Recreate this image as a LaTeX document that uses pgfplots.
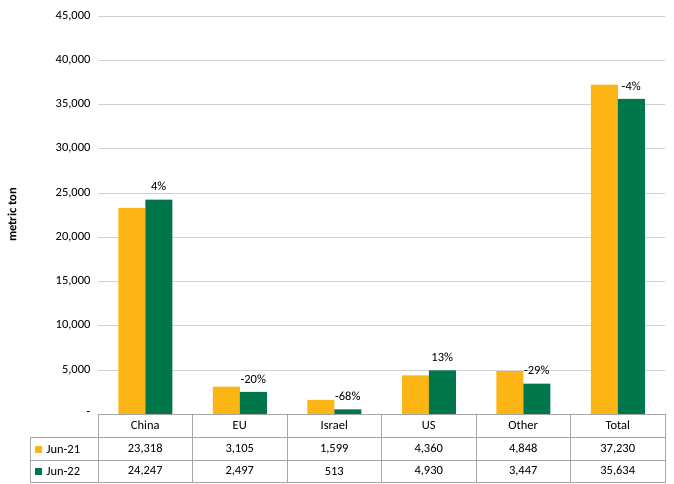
\documentclass[border=0pt]{standalone}
\usepackage{pgfplots}
\pgfplotsset{compat=1.18}
\usepackage{fontspec}
\setmainfont{Carlito}
\definecolor{cy}{HTML}{FDB515}
\definecolor{cg}{HTML}{00774A}
\newcommand{\fs}{\fontsize{12.5}{14}\selectfont}
\begin{document}
\begin{tikzpicture}[x=1pt,y=1pt]
\path (0,0) rectangle (674,483);
\begin{axis}[at={(98pt,69pt)},anchor=south west,scale only axis,width=567pt,height=398pt,
 ybar,bar width=27pt,xmin=-0.5,xmax=5.5,ymin=0,ymax=45000,scaled y ticks=false,
 ytick={0,5000,...,45000},yticklabels={-,{5,000},{10,000},{15,000},{20,000},{25,000},{30,000},{35,000},{40,000},{45,000}},
 xtick=\empty,ymajorgrids,grid style={gray!35},axis line style={draw=none},
 major tick length=0pt,tick label style={font=\fs},yticklabel style={xshift=-4pt},
 ylabel={\textbf{metric ton}},
 every axis y label/.style={at={(-86pt,0.5)},rotate=90,anchor=center,font=\fs},
 clip=false]
\addplot[fill=cy,draw=none,bar shift=-13.5pt] coordinates {(0,23318)(1,3105)(2,1599)(3,4360)(4,4848)(5,37230)};
\addplot[fill=cg,draw=none,bar shift=13.5pt] coordinates {(0,24247)(1,2497)(2,513)(3,4930)(4,3447)(5,35634)};
\node[font=\fs,anchor=south,xshift=13.5pt,yshift=5pt] at (axis cs:0,24247) {4\%};
\node[font=\fs,anchor=south,xshift=13.5pt,yshift=5pt] at (axis cs:1,2497) {-20\%};
\node[font=\fs,anchor=south,xshift=13.5pt,yshift=5pt] at (axis cs:2,513) {-68\%};
\node[font=\fs,anchor=south,xshift=13.5pt,yshift=5pt] at (axis cs:3,4930) {13\%};
\node[font=\fs,anchor=south,xshift=13.5pt,yshift=5pt] at (axis cs:4,3447) {-29\%};
\node[font=\fs,anchor=south,xshift=13.5pt,yshift=5pt] at (axis cs:5,35634) {-4\%};
\end{axis}
\draw[gray!70] (98,69) -- (665,69);
\draw[gray!70] (30,46) -- (665,46);
\draw[gray!70] (30,23) -- (665,23);
\draw[gray!70] (30,0.5) -- (665,0.5);
\draw[gray!70] (30,46) -- (30,0.5);
\foreach \k in {0,...,6}{\draw[gray!70] (98+94.5*\k,69) -- (98+94.5*\k,0.5);}
\foreach \n [count=\i from 0] in {China,EU,Israel,US,Other,Total}{\node[font=\fs] at (145.25+94.5*\i,57.5) {\n};}
\foreach \n [count=\i from 0] in {{23,318},{3,105},{1,599},{4,360},{4,848},{37,230}}{\node[font=\fs] at (145.25+94.5*\i,34) {\n};}
\foreach \n [count=\i from 0] in {{24,247},{2,497},513,{4,930},{3,447},{35,634}}{\node[font=\fs] at (145.25+94.5*\i,11.5) {\n};}
\fill[cy] (35,30) rectangle (42,37);
\fill[cg] (35,8) rectangle (42,15);
\node[font=\fs,anchor=west] at (43,34) {Jun-21};
\node[font=\fs,anchor=west] at (43,11.5) {Jun-22};
\end{tikzpicture}
\end{document}
